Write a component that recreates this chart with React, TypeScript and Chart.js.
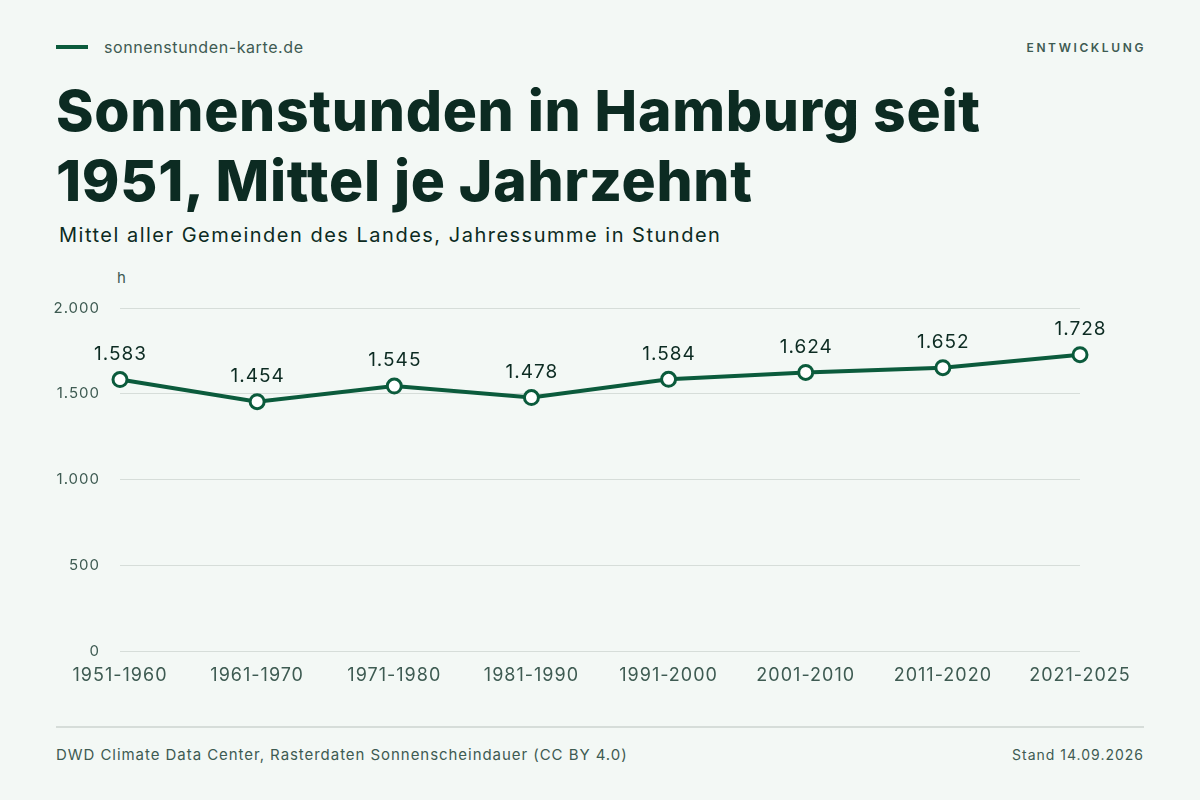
import { useEffect, useRef } from "react";
import Chart from "chart.js/auto";

const decades = [
  "1951-1960",
  "1961-1970",
  "1971-1980",
  "1981-1990",
  "1991-2000",
  "2001-2010",
  "2011-2020",
  "2021-2025",
];
const sunHours = [1583, 1454, 1545, 1478, 1584, 1624, 1652, 1728];
const yTicks = [0, 500, 1000, 1500, 2000];

const green = "#0b5b3c";
const dark = "#0c2b22";
const muted = "#3e5b52";
const font = "Inter, 'Noto Sans', sans-serif";

// 1583 -> "1.583"
const fmt = (v: number) => String(v).replace(/\B(?=(\d{3})+(?!\d))/g, ".");

// the reference typeface runs wider than Inter, so space the canvas text a little
const spacing = {
  id: "spacing",
  beforeLayout(chart: any) {
    chart.ctx.letterSpacing = "1px";
  },
  beforeDraw(chart: any) {
    chart.ctx.letterSpacing = "1px";
  },
};

const valueLabels = {
  id: "valueLabels",
  afterDatasetsDraw(chart: any) {
    const ctx = chart.ctx;
    const meta = chart.getDatasetMeta(0);
    ctx.save();
    ctx.font = `400 19px ${font}`;
    ctx.letterSpacing = "1px";
    ctx.fillStyle = dark;
    ctx.textAlign = "center";
    ctx.textBaseline = "bottom";
    meta.data.forEach((pt: any, i: number) => {
      ctx.fillText(fmt(sunHours[i]), pt.x + 0.5, pt.y - 16);
    });
    ctx.restore();
  },
};

const App = () => {
  const canvasRef = useRef<HTMLCanvasElement | null>(null);

  useEffect(() => {
    let chart: Chart | null = null;
    if (canvasRef.current) {
      const ctx = canvasRef.current.getContext("2d");
      if (ctx) {
        chart = new Chart(ctx, {
          type: "line",
          data: {
            labels: decades,
            datasets: [
              {
                data: sunHours,
                borderColor: green,
                borderWidth: 4,
                pointRadius: 7,
                pointBorderWidth: 3,
                pointBackgroundColor: "#ffffff",
                pointBorderColor: green,
                tension: 0,
                fill: false,
              },
            ],
          },
          options: {
            animation: false,
            responsive: false,
            layout: {
              padding: { left: 0, right: 120, top: 58, bottom: 9 },
            },
            plugins: {
              legend: { display: false },
              tooltip: { enabled: false },
            },
            scales: {
              x: {
                offset: false,
                grid: { display: false, drawTicks: false },
                border: { display: false },
                ticks: {
                  color: muted,
                  font: { family: font, size: 18 },
                  padding: 14,
                  maxRotation: 0,
                  autoSkip: false,
                },
                afterFit: (scale: any) => {
                  scale.height = 40;
                },
              },
              y: {
                min: 0,
                max: 2000,
                afterBuildTicks: (scale: any) => {
                  scale.ticks = yTicks.map((v) => ({ value: v }));
                },
                grid: { color: "#d6ddd9", lineWidth: 1, drawTicks: false },
                border: { display: false },
                ticks: {
                  color: muted,
                  font: { family: font, size: 15 },
                  padding: 20,
                  callback: (v: any) => fmt(Number(v)),
                },
                afterFit: (scale: any) => {
                  scale.width = 120;
                },
              },
            },
          },
          plugins: [spacing, valueLabels],
        });
      }
    }
    return () => {
      chart?.destroy();
    };
  }, []);

  return (
    <div
      style={{
        position: "fixed",
        left: 0,
        top: 0,
        width: 1200,
        height: 800,
        background: "#f3f8f5",
        fontFamily: font,
        overflow: "hidden",
      }}
    >
      {/* header */}
      <div style={{ position: "absolute", left: 56, top: 45, width: 32, height: 4, background: green }} />
      <div
        style={{
          position: "absolute",
          left: 104,
          top: 37,
          fontSize: 16,
          letterSpacing: 0.6,
          color: muted,
          lineHeight: "20px",
        }}
      >
        sonnenstunden-karte.de
      </div>
      <div
        style={{
          position: "absolute",
          right: 54,
          top: 40,
          fontSize: 12,
          letterSpacing: 2.6,
          fontWeight: 600,
          color: muted,
          lineHeight: "16px",
        }}
      >
        ENTWICKLUNG
      </div>
      <div
        style={{
          position: "absolute",
          left: 56,
          top: 76,
          width: 1100,
          fontSize: 57,
          fontWeight: 800,
          lineHeight: "70px",
          color: dark,
          letterSpacing: 0.7,
        }}
      >
        Sonnenstunden in Hamburg seit
        <br />
        1951, Mittel je Jahrzehnt
      </div>
      <div
        style={{
          position: "absolute",
          left: 59,
          top: 222,
          fontSize: 20,
          letterSpacing: 1.5,
          color: dark,
          lineHeight: "26px",
        }}
      >
        Mittel aller Gemeinden des Landes, Jahressumme in Stunden
      </div>

      {/* chart */}
      <div style={{ position: "absolute", left: 117, top: 269, fontSize: 15, color: muted, lineHeight: "18px" }}>h</div>
      <canvas
        ref={canvasRef}
        width={1200}
        height={450}
        style={{ position: "absolute", left: 0, top: 250, width: 1200, height: 450 }}
      />

      {/* footer */}
      <div style={{ position: "absolute", left: 56, right: 56, top: 726, height: 1.5, background: "#d6ddd9" }} />
      <div
        style={{
          position: "absolute",
          left: 56,
          top: 745,
          fontSize: 15,
          letterSpacing: 0.95,
          color: muted,
          lineHeight: "20px",
        }}
      >
        DWD Climate Data Center, Rasterdaten Sonnenscheindauer (CC BY 4.0)
      </div>
      <div
        style={{
          position: "absolute",
          right: 56,
          top: 746,
          fontSize: 14,
          letterSpacing: 1,
          color: muted,
          lineHeight: "18px",
        }}
      >
        Stand 14.09.2026
      </div>
    </div>
  );
};

export default App;
